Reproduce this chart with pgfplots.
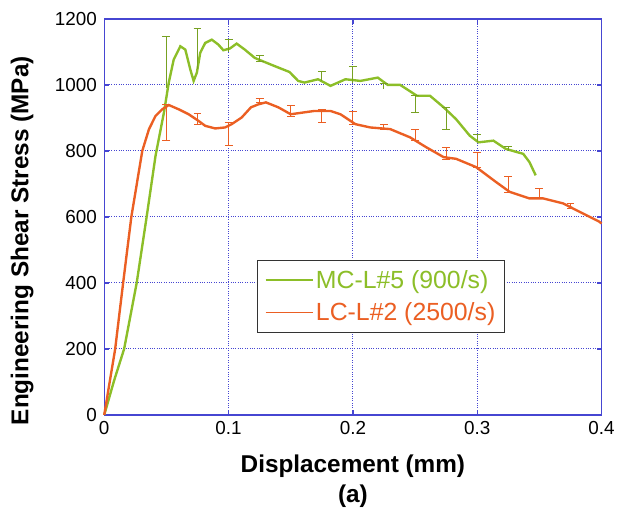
\documentclass[border=0pt]{standalone}
\usepackage{fontspec}
\setmainfont{Liberation Sans}
\usepackage{pgfplots}
\pgfplotsset{compat=1.18}
\definecolor{cgreen}{RGB}{140,190,40}
\definecolor{corange}{RGB}{235,95,35}
\definecolor{cblue}{RGB}{70,70,210}
\begin{document}
\begin{tikzpicture}
\begin{axis}[
  scale only axis, width=501pt, height=399pt,
  xmin=0, xmax=0.4, ymin=0, ymax=1200,
  xtick={0,0.1,0.2,0.3,0.4}, ytick={0,200,...,1200},
  xticklabels={0,0.1,0.2,0.3,0.4},
  yticklabel style={/pgf/number format/1000 sep={}, xshift=-4pt},
  xticklabel style={yshift=-3pt},
  /pgf/number format/assume math mode=true,
  tick label style={font=\fontsize{19}{21}\selectfont},
  axis line style={cblue, line width=1.3pt},
  tick style={cblue, line width=1.3pt},
  major tick length=5pt,
  tick align=inside,
  grid=major,
  major grid style={cblue, dotted, line width=0.9pt},
  xlabel={\bfseries Displacement (mm)},
  ylabel={\bfseries Engineering Shear Stress (MPa)},
  label style={font=\fontsize{24.5}{26}\selectfont},
  xlabel style={at={(axis description cs:0.5,-0.13)}, anchor=center},
  ylabel style={at={(axis description cs:-0.165,0.44)}, anchor=center},
  legend style={at={(axis description cs:0.308,0.208)}, anchor=south west,
    draw=black!80, line width=1pt, font=\fontsize{25}{29}\selectfont,
    row sep=9pt, inner xsep=7pt, inner ysep=8pt},
  legend cell align=left,
  legend image code/.code={\draw[#1, line width=1.5pt] (0pt,0pt) -- (48pt,0pt);},
  clip=false,
]
\addplot[cgreen, line width=2.4pt] coordinates {
(0,0) (0.008,105) (0.016,200) (0.0261,400) (0.0341,600) (0.0413,786) (0.048,916)
(0.0519,1007) (0.0559,1077) (0.0612,1117) (0.0652,1107) (0.0692,1047)
(0.0719,1012) (0.0745,1037) (0.0772,1097) (0.0812,1127) (0.0865,1137)
(0.0918,1122) (0.0958,1105) (0.101,1110) (0.1065,1125) (0.113,1107)
(0.121,1082) (0.124,1077) (0.137,1057) (0.149,1039)
(0.156,1012) (0.161,1007) (0.172,1017) (0.182,997) (0.194,1017)
(0.206,1012) (0.220,1022) (0.228,1000) (0.238,1000) (0.2515,967)
(0.262,967) (0.273,932) (0.283,896) (0.294,846) (0.301,826)
(0.313,831) (0.323,806) (0.337,791) (0.342,766) (0.347,726)
};
\addlegendentry{\textcolor{cgreen}{MC-L\#5 (900/s)}}
\addplot[corange, line width=2.4pt] coordinates {
(0,0) (0.0088,200) (0.0152,400) (0.0218,600) (0.0306,800) (0.036,866)
(0.0413,906) (0.0466,926) (0.0519,939) (0.0599,926) (0.0679,911)
(0.0758,891) (0.0812,876) (0.0892,868) (0.0972,871) (0.1025,881)
(0.1105,901) (0.118,932) (0.124,941) (0.130,947) (0.140,932) (0.150,911)
(0.169,921) (0.182,921) (0.190,911) (0.202,881) (0.214,871)
(0.230,866) (0.246,841) (0.259,811) (0.273,781) (0.283,776)
(0.299,751) (0.315,706) (0.326,676) (0.342,656) (0.353,656)
(0.369,641) (0.382,616) (0.398,586) (0.4,580)
};
\addlegendentry{\textcolor{corange}{LC-L\#2 (2500/s)}}
% error bars: y = low end, plus = span
\addplot[forget plot, draw=none, mark=none,
  error bars/.cd, y dir=plus, y explicit,
  error bar style={draw=cgreen!85!black, line width=1pt},
  error mark options={draw=cgreen!85!black, rotate=90, mark size=4pt, line width=1pt}]
  table[x=x, y=y, y error plus=e] {
x y e
0.050 990 157
0.075 1047 125
0.100 1100 39
0.125 1072 18
0.175 1012 30
0.200 1007 50
0.225 987 18
0.250 916 51
0.275 866 66
0.300 826 25
0.325 800 12
};
\addplot[forget plot, draw=none, mark=none,
  error bars/.cd, y dir=minus, y explicit,
  error bar style={draw=cgreen!85!black, line width=1pt},
  error mark options={draw=cgreen!85!black, rotate=90, mark size=4pt, line width=1pt}]
  table[x=x, y=y, y error minus=e] {
x y e
0.125 1090 18
0.250 967 51
0.275 932 66
};
\addplot[forget plot, draw=none, mark=none,
  error bars/.cd, y dir=both, y explicit,
  error bar style={draw=corange, line width=1pt},
  error mark options={draw=corange, rotate=90, mark size=4pt, line width=1pt}]
  table[x=x, y=y, y error plus=p, y error minus=m] {
x y p m
0.050 886 55 55
0.075 897 16 16
0.100 851 35 35
0.125 953 7 7
0.150 920 17 17
0.175 906 20 20
0.200 899 19 19
0.225 873 7 7
0.250 848 18 18
0.275 793 18 18
0.300 772 22 22
0.325 698 23 23
0.350 671 15 15
0.375 633 8 8
};
\node[font=\fontsize{24.5}{26}\selectfont\bfseries] at (axis description cs:0.5,-0.205) {(a)};
\path (rel axis cs:0,0) ++(-105pt,-102pt) rectangle ++(618pt,520pt);
\end{axis}
\end{tikzpicture}
\end{document}
